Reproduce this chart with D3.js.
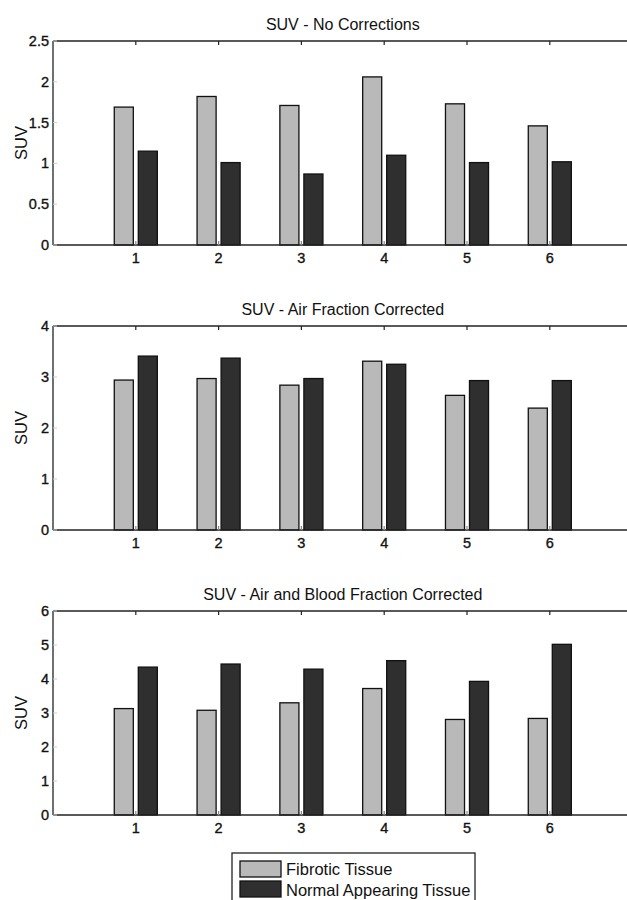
<!DOCTYPE html>
<html>
<head>
<meta charset="utf-8">
<script src="https://cdn.jsdelivr.net/npm/d3@7"></script>
<style>
  body { margin: 0; background: #fff; }
  svg { display: block; font-family: "Liberation Sans", Arial, sans-serif; }
</style>
</head>
<body>
<svg id="chart" width="627" height="900"></svg>
<script>
const categories = [1, 2, 3, 4, 5, 6];

const fibroticNoCorr = [1.69, 1.82, 1.71, 2.06, 1.73, 1.46];
const normalNoCorr = [1.15, 1.01, 0.87, 1.10, 1.01, 1.02];

const fibroticAir = [2.94, 2.97, 2.84, 3.31, 2.64, 2.39];
const normalAir = [3.41, 3.37, 2.97, 3.25, 2.93, 2.93];

const fibroticAirBlood = [3.13, 3.08, 3.30, 3.72, 2.81, 2.84];
const normalAirBlood = [4.35, 4.44, 4.29, 4.54, 3.93, 5.02];

const ticksNoCorr = [0, 0.5, 1, 1.5, 2, 2.5];
const ticksAir = [0, 1, 2, 3, 4];
const ticksAirBlood = [0, 1, 2, 3, 4, 5, 6];

const titles = ["SUV - No Corrections", "SUV - Air Fraction Corrected", "SUV - Air and Blood Fraction Corrected"];
const seriesNames = ["Fibrotic Tissue", "Normal Appearing Tissue"];
const seriesColors = ["#b9b9b9", "#2f2f2f"];

const svg = d3.select("#chart");

const left = 53;
const unit = 82.8; // one category step in px
const panelHeight = 204;
const barWidth = 0.23;
const barOffset = 0.145;

const x = d3.scaleLinear().domain([0, 7]).range([left, left + 7 * unit]);

// draw a single bar panel
function drawPanel(top, title, fibrotic, normal, yTicks) {
  const y = d3.scaleLinear().domain([0, d3.max(yTicks)]).range([top + panelHeight, top]);
  const g = svg.append("g");
  const bottom = top + panelHeight;

  const rows = categories.map((c, i) => ({ c, values: [fibrotic[i], normal[i]] }));

  rows.forEach(row => {
    row.values.forEach((v, s) => {
      const cx = row.c + (s === 0 ? -barOffset : barOffset);
      g.append("rect")
        .attr("x", x(cx - barWidth / 2))
        .attr("y", y(v))
        .attr("width", x(barWidth) - x(0))
        .attr("height", y(0) - y(v))
        .attr("fill", seriesColors[s])
        .attr("stroke", "#111")
        .attr("stroke-width", 1.3);
    });
  });

  // frame lines (right side is cut off by the picture)
  g.append("line").attr("x1", left).attr("x2", 627).attr("y1", top).attr("y2", top)
    .attr("stroke", "#222").attr("stroke-width", 1.3);
  g.append("line").attr("x1", left).attr("x2", 627).attr("y1", bottom).attr("y2", bottom)
    .attr("stroke", "#222").attr("stroke-width", 1.3);
  g.append("line").attr("x1", left).attr("x2", left).attr("y1", top).attr("y2", bottom)
    .attr("stroke", "#222").attr("stroke-width", 1.3);

  // inward x ticks at top and bottom
  categories.forEach(c => {
    g.append("line").attr("x1", x(c)).attr("x2", x(c)).attr("y1", top).attr("y2", top + 4)
      .attr("stroke", "#222").attr("stroke-width", 1.2);
    g.append("line").attr("x1", x(c)).attr("x2", x(c)).attr("y1", bottom).attr("y2", bottom - 4)
      .attr("stroke", "#888").attr("stroke-width", 1.2);
  });

  // inward y ticks
  yTicks.forEach(t => {
    g.append("line").attr("x1", left).attr("x2", left + 4).attr("y1", y(t)).attr("y2", y(t))
      .attr("stroke", "#ccc").attr("stroke-width", 1);
  });

  const tickStyle = sel => sel.attr("font-size", 14.5).attr("fill", "#111")
    .attr("stroke", "#111").attr("stroke-width", 0.35);

  g.selectAll(".ytick").data(yTicks).join("text")
    .attr("x", left - 4)
    .attr("y", d => y(d) + 5)
    .attr("text-anchor", "end")
    .text(d => d)
    .call(tickStyle);

  g.selectAll(".xtick").data(categories).join("text")
    .attr("x", d => x(d))
    .attr("y", bottom + 18)
    .attr("text-anchor", "middle")
    .text(d => d)
    .call(tickStyle);

  g.append("text")
    .attr("x", (x(0) + x(7)) / 2)
    .attr("y", top - 11)
    .attr("text-anchor", "middle")
    .attr("font-size", 16)
    .attr("fill", "#111")
    .text(title);

  g.append("text")
    .attr("transform", `translate(27, ${top + panelHeight / 2}) rotate(-90)`)
    .attr("text-anchor", "middle")
    .attr("font-size", 16.5)
    .attr("fill", "#111")
    .text("SUV");
}

drawPanel(41, titles[0], fibroticNoCorr, normalNoCorr, ticksNoCorr);
drawPanel(326, titles[1], fibroticAir, normalAir, ticksAir);
drawPanel(611, titles[2], fibroticAirBlood, normalAirBlood, ticksAirBlood);

// legend
const legend = svg.append("g").attr("transform", "translate(232, 853)");
legend.append("rect")
  .attr("width", 243).attr("height", 60)
  .attr("fill", "#fff").attr("stroke", "#222").attr("stroke-width", 1.3);

seriesNames.forEach((name, i) => {
  legend.append("rect")
    .attr("x", 8).attr("y", 8 + i * 20)
    .attr("width", 41).attr("height", 16)
    .attr("fill", seriesColors[i]).attr("stroke", "#111").attr("stroke-width", 1.3);
  legend.append("text")
    .attr("x", 54).attr("y", 22 + i * 21)
    .attr("font-size", 16.5)
    .attr("fill", "#111")
    .text(name);
});
</script>
</body>
</html>
